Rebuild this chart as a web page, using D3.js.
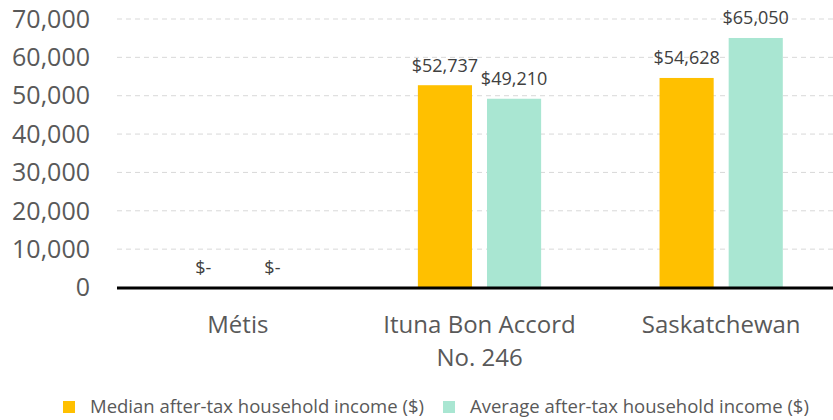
<!DOCTYPE html>
<html>
<head>
<meta charset="utf-8">
<script src="https://cdn.jsdelivr.net/npm/d3@7"></script>
<style>
  body { margin: 0; background: #fff; }
  text { font-family: "Open Sans", sans-serif; fill: #595959; }
</style>
</head>
<body>
<svg id="chart"></svg>
<script>
let categories = [["Métis"], ["Ituna Bon Accord", "No. 246"], ["Saskatchewan"]]
let series_names = ["Median after-tax household income ($)", "Average after-tax household income ($)"]
let median_values = [0, 52737, 54628]
let average_values = [0, 49210, 65050]
let y_ticks = [0, 10000, 20000, 30000, 40000, 50000, 60000, 70000]
let colors = ["#FFC000", "#A9E6D2"]

let width = 833, height = 420
let svg = d3.select('#chart')
    .attr('width', width)
    .attr('height', height)

let plot = {left: 117, right: 842, top: 19, bottom: 287.5}

let x0 = d3.scaleBand()
    .domain(d3.range(categories.length))
    .range([plot.left, plot.right])
    .paddingInner(0)
    .paddingOuter(0)

// bars take about half the band, with a small gap between the pair
let bar_w = x0.bandwidth() * 0.224
let pair_gap = x0.bandwidth() * 0.062

let y = d3.scaleLinear()
    .domain([0, 70000])
    .range([plot.bottom, plot.top])

// gridlines
svg.append('g')
    .selectAll('line')
    .data(y_ticks.slice(1))
    .enter()
    .append('line')
    .attr('x1', plot.left)
    .attr('x2', plot.right)
    .attr('y1', d => y(d))
    .attr('y2', d => y(d))
    .attr('stroke', '#D9D9D9')
    .attr('stroke-width', 1)
    .attr('stroke-dasharray', '5,4')

// y tick labels
svg.append('g')
    .selectAll('text')
    .data(y_ticks)
    .enter()
    .append('text')
    .attr('x', 90)
    .attr('y', d => y(d))
    .attr('dy', '0.35em')
    .attr('text-anchor', 'end')
    .style('font-size', '25px')
    .text(d => d3.format(',')(d))

let rows = []
categories.forEach(function(c, i){
    let center = x0(i) + x0.bandwidth() / 2
    rows.push({i: i, s: 0, v: median_values[i], x: center - pair_gap / 2 - bar_w})
    rows.push({i: i, s: 1, v: average_values[i], x: center + pair_gap / 2})
})

svg.append('g')
    .selectAll('rect')
    .data(rows)
    .enter()
    .append('rect')
    .attr('x', d => d.x)
    .attr('y', d => y(d.v))
    .attr('width', bar_w)
    .attr('height', d => y(0) - y(d.v))
    .attr('fill', d => colors[d.s])

// value labels
let money = d3.format(',')
svg.append('g')
    .selectAll('text')
    .data(rows)
    .enter()
    .append('text')
    .attr('x', d => d.x + bar_w / 2)
    .attr('y', d => y(d.v) - 20)
    .attr('dy', '0.35em')
    .attr('text-anchor', 'middle')
    .style('font-size', '18px')
    .style('fill', '#404040')
    .text(d => d.v === 0 ? '$-' : '$' + money(d.v))

// x axis line
svg.append('line')
    .attr('x1', plot.left)
    .attr('x2', plot.right)
    .attr('y1', y(0) + 0.5)
    .attr('y2', y(0) + 0.5)
    .attr('stroke', '#000')
    .attr('stroke-width', 3)

// category labels
let cat_g = svg.append('g')
    .selectAll('text')
    .data(categories)
    .enter()
    .append('text')
    .attr('text-anchor', 'middle')
    .style('font-size', '24px')

cat_g.selectAll('tspan')
    .data((d, i) => d.map(t => ({t: t, i: i})))
    .enter()
    .append('tspan')
    .attr('x', d => x0(d.i) + x0.bandwidth() / 2)
    .attr('y', (d, j) => 325 + j * 33)
    .attr('dy', '0.35em')
    .text(d => d.t)

// legend
let legend_x = [63, 443]
let leg = svg.append('g')
    .selectAll('g')
    .data(series_names)
    .enter()
    .append('g')
    .attr('transform', (d, i) => 'translate(' + legend_x[i] + ',407)')

leg.append('rect')
    .attr('x', 0)
    .attr('y', -6)
    .attr('width', 12)
    .attr('height', 12)
    .attr('fill', (d, i) => colors[i])

leg.append('text')
    .attr('x', 27)
    .attr('y', 0)
    .attr('dy', '0.35em')
    .style('font-size', '18.5px')
    .text(d => d)
</script>
</body>
</html>
